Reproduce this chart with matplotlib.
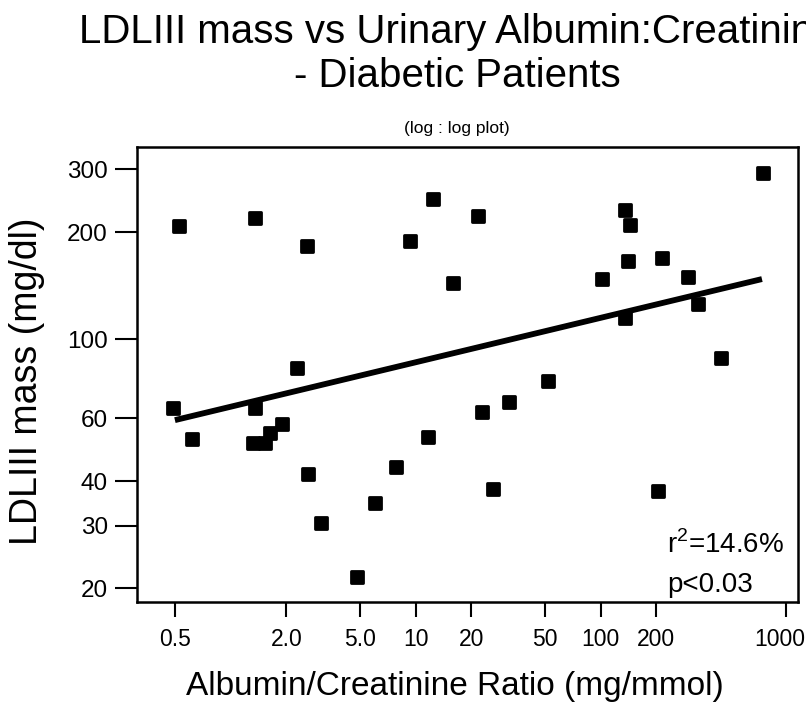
import matplotlib
matplotlib.use('Agg')
import matplotlib.pyplot as plt
import matplotlib.transforms as mtransforms
from matplotlib.markers import MarkerStyle

plt.rcParams['font.family'] = ['Liberation Sans', 'DejaVu Sans']
plt.rcParams['mathtext.fontset'] = 'custom'
plt.rcParams['mathtext.rm'] = 'Liberation Sans'

# albumin/creatinine ratio (mg/mmol) vs LDLIII mass (mg/dl)
acr = [0.525, 1.35, 2.59, 12.4, 9.32, 15.9, 2.28, 0.49, 1.35, 1.89,
       0.618, 1.63, 1.53, 1.32, 11.7, 2.62, 3.08, 4.82, 6.05, 7.83,
       21.7, 135, 144, 141, 214, 102, 297, 753, 336, 135,
       447, 51.9, 31.9, 22.8, 26.2, 204]
ldl3 = [208, 219, 183, 248, 189, 144, 83, 64, 64, 57.8,
        52.4, 54.5, 51.3, 51.1, 53.1, 41.8, 30.4, 21.5, 34.7, 43.8,
        222, 230, 209, 166, 169, 148, 150, 293, 126, 114.8,
        88.5, 76.3, 66.6, 62.4, 37.9, 37.4]

# regression line (log:log)
fit_x = [0.5, 745]
fit_y = [59.3, 147.6]

x_ticks = [0.5, 2, 5, 10, 20, 50, 100, 200, 1000]
x_labels = ['0.5', '2.0', '5.0', '10', '20', '50', '100', '200', '1000']
y_ticks = [20, 30, 40, 60, 100, 200, 300]
y_labels = ['20', '30', '40', '60', '100', '200', '300']


def main():
  fig = plt.figure(figsize=(8.06, 7.13), dpi=100)
  ax = fig.add_axes([0.170, 0.1557, 0.820, 0.6381])

  ax.set_xscale('log')
  ax.set_yscale('log')

  mk = MarkerStyle('s', joinstyle='round')
  ax.plot(acr, ldl3, linestyle='none', marker=mk, markersize=8,
          markerfacecolor='black', markeredgecolor='black', markeredgewidth=2)
  ax.plot(fit_x, fit_y, color='black', linewidth=4.2, solid_capstyle='butt')

  ax.set_xlim(0.312, 1166)
  ax.set_ylim(18.3, 346.6)

  ax.set_xticks(x_ticks, x_labels)
  ax.set_yticks(y_ticks, y_labels)
  ax.minorticks_off()
  ax.tick_params(axis='x', length=11, width=1.5, pad=8, labelsize=16.5)
  ax.tick_params(axis='y', length=16, width=1.5, pad=5, labelsize=17.5)

  # last x label sits right at the figure edge, pull it in a touch
  last = ax.get_xticklabels()[-1]
  last.set_transform(last.get_transform() +
                     mtransforms.ScaledTranslation(-6 / 100, 0, fig.dpi_scale_trans))

  for sp in ax.spines.values():
    sp.set_linewidth(1.8)

  ax.set_xlabel('Albumin/Creatinine Ratio (mg/mmol)', fontsize=24)
  ax.xaxis.set_label_coords(0.481, -0.152)
  ax.set_ylabel('LDLIII mass (mg/dl)', fontsize=27)
  ax.yaxis.set_label_coords(-0.139, 0.486)

  ax.text(0.802, 0.108, r'r$^{\mathrm{2}}$=14.6%', transform=ax.transAxes,
          fontsize=20, ha='left', va='baseline')
  ax.text(0.802, 0.022, 'p<0.03', transform=ax.transAxes,
          fontsize=20, ha='left', va='baseline')

  fig.text(0.567, 0.955, 'LDLIII mass vs Urinary Albumin:Creatinine',
           fontsize=29, ha='center', va='center')
  fig.text(0.567, 0.894, '- Diabetic Patients',
           fontsize=29, ha='center', va='center')
  fig.text(0.567, 0.820, '(log : log plot)',
           fontsize=12.5, ha='center', va='center')

  fig.savefig('out.png', dpi=100, facecolor='white')


if __name__ == "__main__":
  main()
